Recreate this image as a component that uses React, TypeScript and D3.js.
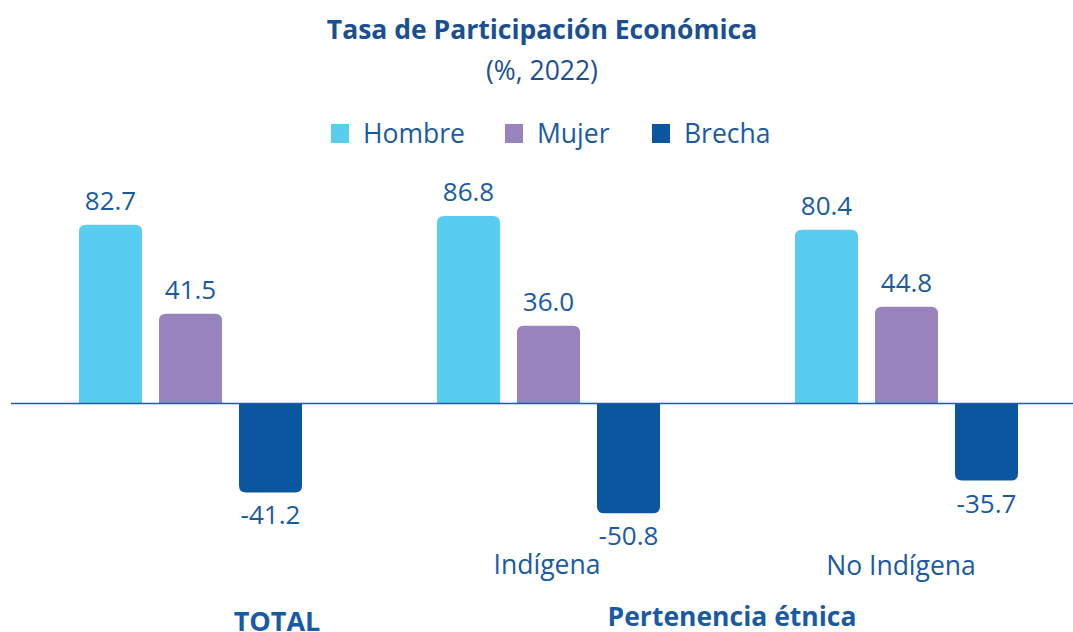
import React from "react";
import * as d3 from "d3";

const categories = ["TOTAL", "Indígena", "No Indígena"];
const seriesNames = ["Hombre", "Mujer", "Brecha"];
const hombre = [82.7, 86.8, 80.4];
const mujer = [41.5, 36.0, 44.8];
const brecha = [-41.2, -50.8, -35.7];
const colors = ["#58cdf0", "#9883bd", "#0a57a0"];

const W = 1073;
const H = 632;
const textColor = "#1a5aa3";
const titleColor = "#1b4f93";
const font = "'Open Sans', 'Noto Sans', sans-serif";

function barPath(x: number, y0: number, y1: number, w: number, r: number) {
  const dir = y1 < y0 ? -1 : 1;
  const h = Math.abs(y1 - y0);
  const rr = Math.min(r, h, w / 2);
  if (dir < 0) {
    return `M${x},${y0} V${y1 + rr} Q${x},${y1} ${x + rr},${y1} H${x + w - rr} Q${x + w},${y1} ${x + w},${y1 + rr} V${y0} Z`;
  }
  return `M${x},${y0} V${y1 - rr} Q${x},${y1} ${x + rr},${y1} H${x + w - rr} Q${x + w},${y1} ${x + w},${y1 - rr} V${y0} Z`;
}

export default function App() {
  const series = [hombre, mujer, brecha];
  const x0 = d3.scaleBand<string>().domain(categories).range([11.5, 1085.5]).paddingInner(0.377).paddingOuter(0.1885);
  const x1 = d3.scaleBand<string>().domain(seriesNames).range([0, x0.bandwidth()]).paddingInner(0.2125).paddingOuter(0);
  const y = d3.scaleLinear().domain([0, 100]).range([403.5, 187.5]);

  const legendX = [331, 505, 652];

  return (
    <svg width={W} height={H} style={{ position: "absolute", left: 0, top: 0, background: "#fff" }} fontFamily={font}>
      <text x={542} y={39} textAnchor="middle" fontSize={26.5} fontWeight={700} fill={titleColor}>
        Tasa de Participación Económica
      </text>
      <text x={542} y={80} textAnchor="middle" fontSize={26.5} fill={titleColor}>
        (%, 2022)
      </text>
      {seriesNames.map((s, i) => (
        <g key={s}>
          <rect x={legendX[i]} y={124} width={18} height={19} fill={colors[i]} />
          <text x={legendX[i] + 32} y={143} fontSize={26.5} fill={textColor}>
            {s}
          </text>
        </g>
      ))}
      {categories.map((c, ci) => (
        <g key={c} transform={`translate(${x0(c)},0)`}>
          {seriesNames.map((s, si) => {
            const v = series[si][ci];
            const bx = x1(s)!;
            const bw = x1.bandwidth();
            const yb = y(0);
            const ye = y(v);
            return (
              <g key={s}>
                <path d={barPath(bx, yb, ye, bw, 7)} fill={colors[si]} />
                <text
                  x={bx + bw / 2}
                  y={v >= 0 ? ye - 15 : ye + 32}
                  textAnchor="middle"
                  fontSize={26}
                  fill={textColor}
                >
                  {v.toFixed(1)}
                </text>
              </g>
            );
          })}
        </g>
      ))}
      <line x1={11} x2={W} y1={y(0)} y2={y(0)} stroke="#1f5da6" strokeWidth={1.5} />
      <text x={547} y={574} textAnchor="middle" fontSize={26.5} fill={textColor}>
        {categories[1]}
      </text>
      <text x={901} y={575} textAnchor="middle" fontSize={26.5} fill={textColor}>
        {categories[2]}
      </text>
      <text x={277} y={631} textAnchor="middle" fontSize={27} fontWeight={700} fill={textColor}>
        {categories[0]}
      </text>
      <text x={732} y={626} textAnchor="middle" fontSize={26.5} fontWeight={700} fill={textColor}>
        Pertenencia étnica
      </text>
    </svg>
  );
}
